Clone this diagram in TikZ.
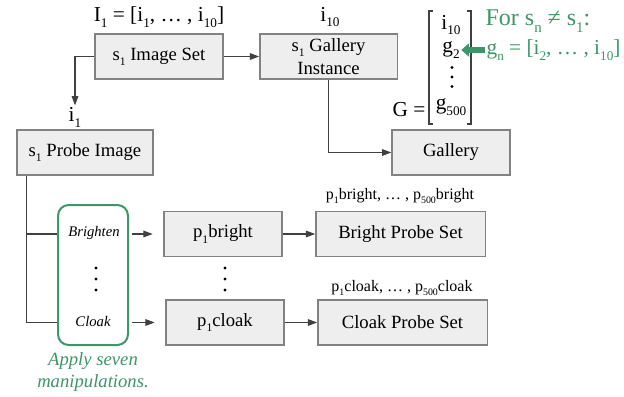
\documentclass[tikz,border=0pt]{standalone}
\usepackage{fontspec}
\setmainfont{Liberation Serif}
\usetikzlibrary{arrows.meta,positioning}
\definecolor{leaf}{RGB}{60,150,104}
\definecolor{boxfill}{RGB}{238,238,238}
\definecolor{boxline}{RGB}{130,130,130}
\newcommand{\lo}[1]{\raisebox{-0.6ex}{\scalebox{0.62}{#1}}}

\begin{document}
\begin{tikzpicture}[x=0.75pt,y=-0.75pt,
  box/.style={draw=boxline,fill=boxfill,line width=1pt,minimum height=33.75pt,
    align=center,inner sep=2pt,font=\fontsize{14}{17}\selectfont},
  lab/.style={inner sep=1pt,font=\fontsize{12}{14}\selectfont},
  big/.style={inner sep=1pt,font=\fontsize{16}{18}\selectfont},
  manip/.style={inner sep=1pt,font=\fontsize{11}{13}\selectfont\itshape},
  line/.style={draw=black!75,line width=0.8pt},
  arr/.style={line,-{Triangle[length=7pt,width=5pt]}}]
  \useasboundingbox (0,0) rectangle (624,396);
  \node[box,minimum width=96pt] (imgset) at (159,56.5) {s\lo{1} Image Set};
  \node[box,minimum width=103pt] (ginst) at (328.5,56.5) {s\lo{1} Gallery\\Instance};
  \node[box,minimum width=102pt] (probe) at (85,152.5) {s\lo{1} Probe Image};
  \node[box,minimum width=88.5pt] (gallery) at (451,152.5) {Gallery};
  \node[box,minimum width=88.5pt] (pbright) at (223,234) {p\lo{1}bright};
  \node[box,minimum width=88.5pt] (pcloak) at (225,322.5) {p\lo{1}cloak};
  \node[box,minimum width=127pt] (bset) at (400.5,234) {Bright Probe Set};
  \node[box,minimum width=127pt] (cset) at (402.5,322.5) {Cloak Probe Set};
  \node[draw=leaf,line width=1.5pt,rounded corners=8pt,minimum width=52.5pt,
    minimum height=105pt] (manip) at (93,275) {};
  \node[manip] (brighten) at (94,233) {Brighten};
  \node[manip] (cloak) at (93,321) {Cloak};
  \coordinate (mdots) at (96,279);
  \coordinate (pdots) at (225,279);
  \coordinate (gdots) at (452,77);
  \foreach \c/\d in {mdots/11,pdots/11,gdots/9.5}
    \foreach \k in {-1,0,1}
      \fill (\c) ++(0,\k*\d) circle (1.2pt);
  \node[leaf,inner sep=1pt,align=center,font=\fontsize{14}{16}\selectfont\itshape]
    (apply) at (93,372) {Apply seven\\manipulations.};
  \node[big] (ilist) at (159,17) {I\lo{1} = [i\lo{1}, … , i\lo{10}]};
  \node[big] (ilast) at (330,17) {i\lo{10}};
  \node[big] (ifirst) at (75,117) {i\lo{1}};
  \node[lab] (blist) at (400,196) {p\lo{1}bright, … , p\lo{500}bright};
  \node[lab] (clist) at (402,288) {p\lo{1}cloak, … , p\lo{500}cloak};
  \node[big,inner sep=0pt] (gi) at (451,25) {i\lo{10}};
  \node[big,inner sep=0pt] (gtwo) at (451,50) {g\lo{2}};
  \node[big] (gend) at (451,107) {g\lo{500}};
  \node[big,anchor=east] (geq) at (427,110) {G =};
  \draw[line] (433,11) -- (429,11) -- (429,124) -- (433,124);
  \draw[line] (467,11) -- (471,11) -- (471,124) -- (467,124);
  \node[leaf,anchor=west,inner sep=1pt,font=\fontsize{18}{20}\selectfont]
    (forall) at (484,21) {For s\lo{n} ≠ s\lo{1}:};
  \node[big,leaf,anchor=west] (gn) at (485,50) {g\lo{n} = [i\lo{2}, … , i\lo{10}]};
  \draw[leaf,line width=4pt,-{Triangle[length=6pt,width=10pt]}] (gn.west) -- ([xshift=1pt]gtwo.east);
  \draw[arr] (imgset.west) -| (ifirst.north);
  \draw[arr] (imgset) -- (ginst);
  \draw[arr] (ginst.south) |- (gallery.west);
  \draw[line] ([xshift=7.5pt]probe.south west) |- (manip.west |- pcloak.west);
  \draw[line] ([xshift=7.5pt]probe.south west |- pbright.west) -- (manip.west |- pbright.west);
  \draw[arr,shorten <=2pt,shorten >=8pt] (manip.east |- pbright.west) -- (pbright.west);
  \draw[arr,shorten <=2pt,shorten >=8pt] (manip.east |- pcloak.west) -- (pcloak.west);
  \draw[arr] (pbright) -- (bset);
  \draw[arr] (pcloak) -- (cset);
\end{tikzpicture}
\end{document}
